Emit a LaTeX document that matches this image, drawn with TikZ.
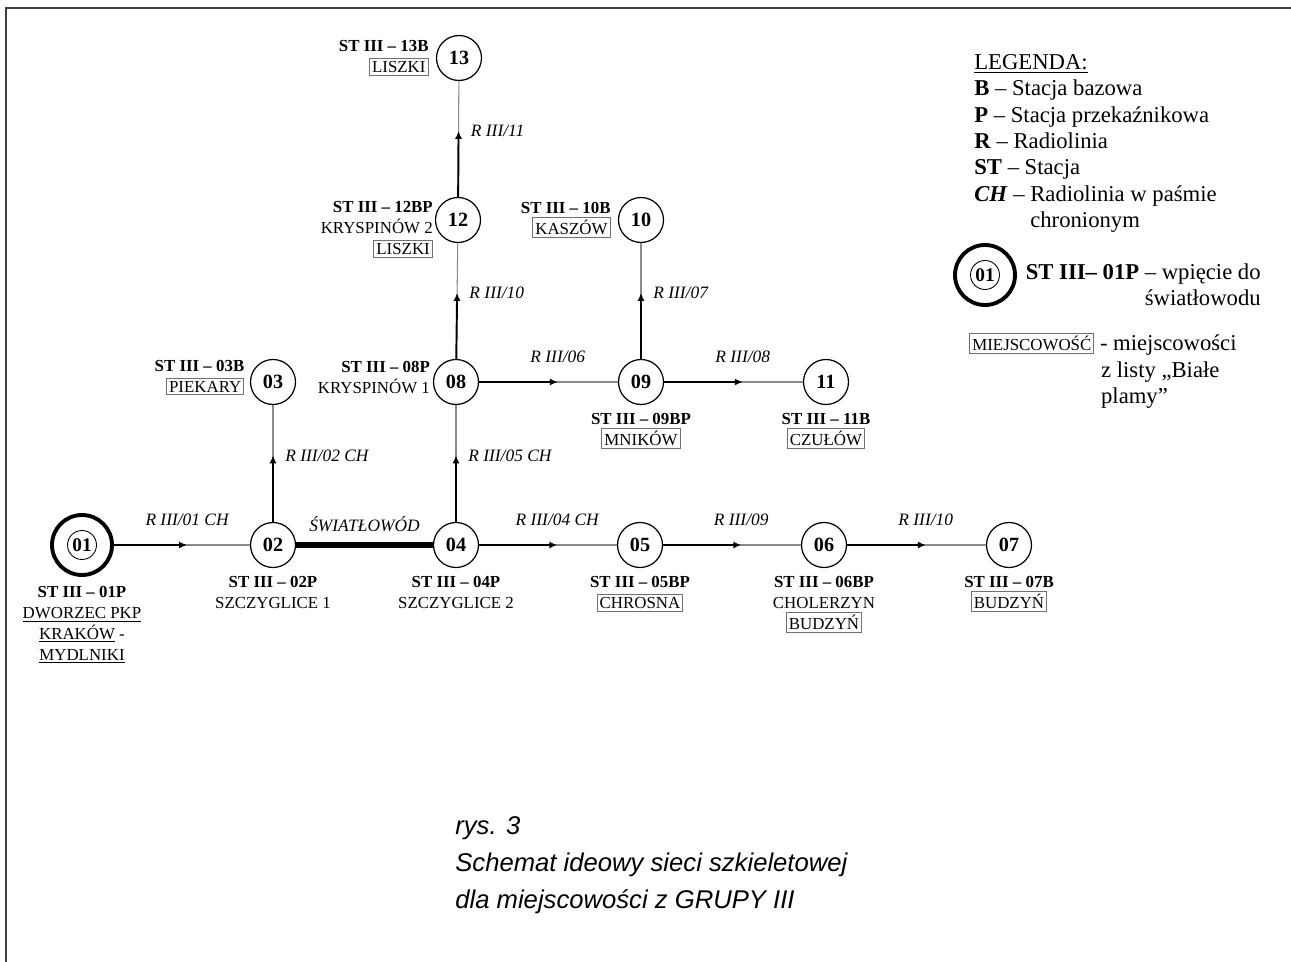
\documentclass[tikz,border=0pt]{standalone}
\usepackage{fontspec}
\setmainfont{Liberation Serif}
\newfontfamily\capfont{Liberation Sans}
\usepackage{xcolor}
\definecolor{lnkgray}{HTML}{8A8A8A}
\definecolor{boxgray}{HTML}{707070}
\definecolor{framegray}{HTML}{404040}
\usetikzlibrary{arrows.meta,positioning,calc}
\newcommand{\miej}[1]{{\setlength{\fboxsep}{1.2pt}\setlength{\fboxrule}{0.5pt}\fcolorbox{boxgray}{white}{#1}}}
\newcommand{\radio}[4]{%
  \draw[tail] (#1) -- (#2);
  \draw[arr] (#1) -- ($(#1)!0.55!(#2)$) node[elbl,#4] (e#1#2) {#3};}

\begin{document}
\begin{tikzpicture}[x=0.02cm,y=-0.02cm,
  stn/.style={circle,draw,line width=0.7pt,minimum size=0.9cm,inner sep=0pt,font=\fontsize{11.5}{12}\selectfont\bfseries},
  hub/.style={circle,draw,line width=2.2pt,minimum size=1.2cm,inner sep=0pt},
  hubin/.style={circle,draw,line width=0.5pt,minimum size=0.58cm,inner sep=0pt,font=\fontsize{11}{12}\selectfont\bfseries},
  lbl/.style={inner sep=0pt,align=center,font=\fontsize{9.6}{11.9}\selectfont},
  elbl/.style={inner sep=0pt,font=\fontsize{9.9}{12}\selectfont\itshape},
  arr/.style={line width=1.1pt,-{Latex[length=4.5pt,width=4pt]}},
  tail/.style={lnkgray,line width=0.6pt},
  fiber/.style={line width=3.6pt},
  leg/.style={inner sep=0pt,align=left,font=\fontsize{12.9}{15}\selectfont},
  captxt/.style={inner sep=0pt,align=left,font=\capfont\fontsize{14.6}{21}\selectfont\itshape},
  frame/.style={framegray,line width=1.1pt}]
  \useasboundingbox (0,0) rectangle (1291,962);
  \draw[frame] (6,962) -- (6,8) -- (1291,8);
  % stations
  \node[hub] (n01) at (82,545) {};
  \node[hubin] (n01in) at (n01) {01};
  \node[stn] (n02) at (273,545) {02};
  \node[stn] (n03) at (273,382) {03};
  \node[stn] (n04) at (456,545) {04};
  \node[stn] (n05) at (640,545) {05};
  \node[stn] (n06) at (824,545) {06};
  \node[stn] (n07) at (1009,545) {07};
  \node[stn] (n08) at (456,382) {08};
  \node[stn] (n09) at (641,382) {09};
  \node[stn] (n10) at (641,220) {10};
  \node[stn] (n11) at (826,382) {11};
  \node[stn] (n12) at (458,220) {12};
  \node[stn] (n13) at (459,58) {13};
  % station names
  \node[lbl,below=5pt of n01] (l01) {\textbf{ST III – 01P}\\\underline{DWORZEC PKP}\\\underline{KRAKÓW} -\\\underline{MYDLNIKI}};
  \node[lbl,below=4.5pt of n02] (l02) {\textbf{ST III – 02P}\\SZCZYGLICE 1};
  \node[lbl,below=4.5pt of n04] (l04) {\textbf{ST III – 04P}\\SZCZYGLICE 2};
  \node[lbl,below=4.5pt of n05] (l05) {\textbf{ST III – 05BP}\\\miej{CHROSNA}};
  \node[lbl,below=4.5pt of n06] (l06) {\textbf{ST III – 06BP}\\CHOLERZYN\\\miej{BUDZYŃ}};
  \node[lbl,below=4.5pt of n07] (l07) {\textbf{ST III – 07B}\\\miej{BUDZYŃ}};
  \node[lbl,below=4.5pt of n09] (l09) {\textbf{ST III – 09BP}\\\miej{MNIKÓW}};
  \node[lbl,below=4.5pt of n11] (l11) {\textbf{ST III – 11B}\\\miej{CZUŁÓW}};
  \node[lbl,align=right,left=3pt of n03,yshift=2.5pt] (l03) {\textbf{ST III – 03B}\\\miej{PIEKARY}};
  \node[lbl,align=right,left=1.5pt of n08,yshift=2.5pt] (l08) {\textbf{ST III – 08P}\\KRYSPINÓW 1};
  \node[lbl,align=right,left=4pt of n10] (l10) {\textbf{ST III – 10B}\\\miej{KASZÓW}};
  \node[lbl,align=right,left=1pt of n12,yshift=-5.5pt] (l12) {\textbf{ST III – 12BP}\\KRYSPINÓW 2\\\miej{LISZKI}};
  \node[lbl,align=right,left=4pt of n13] (l13) {\textbf{ST III – 13B}\\\miej{LISZKI}};
  % links
  \radio{n01}{n02}{R III/01 CH}{above=10.5pt}
  \radio{n02}{n03}{R III/02 CH}{right=6.5pt}
  \draw[fiber] (n02) -- (n04) node[elbl,midway,above=6pt] (fib) {ŚWIATŁOWÓD};
  \radio{n04}{n08}{R III/05 CH}{right=6.5pt}
  \radio{n04}{n05}{R III/04 CH}{above=10.5pt}
  \radio{n05}{n06}{R III/09}{above=10.5pt}
  \radio{n06}{n07}{R III/10}{above=10.5pt}
  \radio{n08}{n09}{R III/06}{above=10.5pt}
  \radio{n08}{n12}{R III/10}{right=6.5pt}
  \radio{n12}{n13}{R III/11}{right=6.5pt}
  \radio{n09}{n10}{R III/07}{right=6.5pt}
  \radio{n09}{n11}{R III/08}{above=10.5pt}
  % legend
  \node[leg,anchor=north west] (legend) at (974,54) {\underline{LEGENDA:}\\
    \textbf{B} – Stacja bazowa\\
    \textbf{P} – Stacja przekaźnikowa\\
    \textbf{R} – Radiolinia\\
    \textbf{ST} – Stacja\\
    \textbf{\textit{CH}} – Radiolinia w paśmie\\
    \hphantom{\textbf{\textit{CH}} – }chronionym};
  \node[hub] (lg01) at (985,275) {};
  \node[hubin] (lg01in) at (lg01) {01};
  \node[leg,align=right,anchor=north east] (lgtxt) at (1261,263) {\textbf{ST III– 01P} – wpięcie do\\światłowodu};
  \node[leg,anchor=north west] (lgmiej) at (969,333) {\miej{\fontsize{9.6}{11}\selectfont MIEJSCOWOŚĆ} - miejscowości\\
    \hspace*{75pt}z listy „Białe\\
    \hspace*{75pt}plamy”};
  % caption
  \node[captxt,anchor=north west] (caption) at (455,816) {rys. 3\\Schemat ideowy sieci szkieletowej\\dla miejscowości z GRUPY III};
\end{tikzpicture}
\end{document}
